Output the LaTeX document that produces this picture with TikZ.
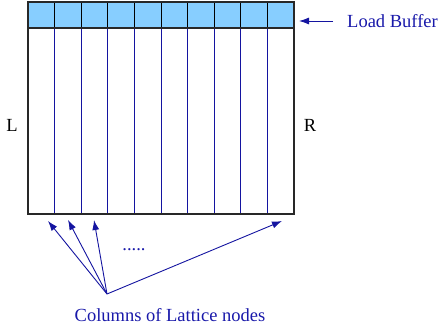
\documentclass[tikz,border=0pt]{standalone}
\usepackage{fontspec}
\setmainfont{Liberation Serif}
\usetikzlibrary{arrows.meta}
\definecolor{bufblue}{RGB}{135,206,255}
\definecolor{colblue}{RGB}{20,20,160}
\definecolor{txtblue}{RGB}{25,25,170}
\definecolor{framegray}{RGB}{40,40,40}
\tikzset{
  colline/.style={colblue, line width=1pt},
  pointer/.style={colblue, line width=0.9pt, -{Latex[length=10pt,width=7pt]}},
  lbl/.style={font=\fontsize{18.5}{20}\selectfont, inner sep=0pt},
}
\begin{document}
\begin{tikzpicture}[x=1pt,y=-1pt]
\useasboundingbox (0,0) rectangle (440,331);
% buffer
\fill[bufblue] (28,2) rectangle (294,28);
\foreach \i in {1,...,9} {
  \draw[black, line width=0.8pt] ({28+\i*26.6},2) -- ({28+\i*26.6},28);
  \draw[colline] ({28+\i*26.6},28) -- ({28+\i*26.6},214);
}
\draw[framegray, line width=1.1pt] (28,28) -- (294,28);
\draw[framegray, line width=1.1pt] (28,2) rectangle (294,214);
% coordinates for arrow tips
\coordinate (c1) at (48,221);
\coordinate (c2) at (68,220);
\coordinate (c3) at (94,220);
\coordinate (cn) at (282,221);
\coordinate (src) at (107,294);
\node[lbl, txtblue, anchor=west] (lb) at (347,21) {Load Buffer};
\draw[pointer] (333,21) -- (299,21);
\node[lbl] (L) at (12,125) {L};
\node[lbl] (R) at (310,125) {R};
\node[lbl, txtblue] (dots) at (134,250) {.....};
\node[lbl, txtblue] (cols) at (170,315) {Columns of Lattice nodes};
\foreach \t in {c1,c2,c3,cn} \draw[pointer] (src) -- (\t);
\end{tikzpicture}
\end{document}
